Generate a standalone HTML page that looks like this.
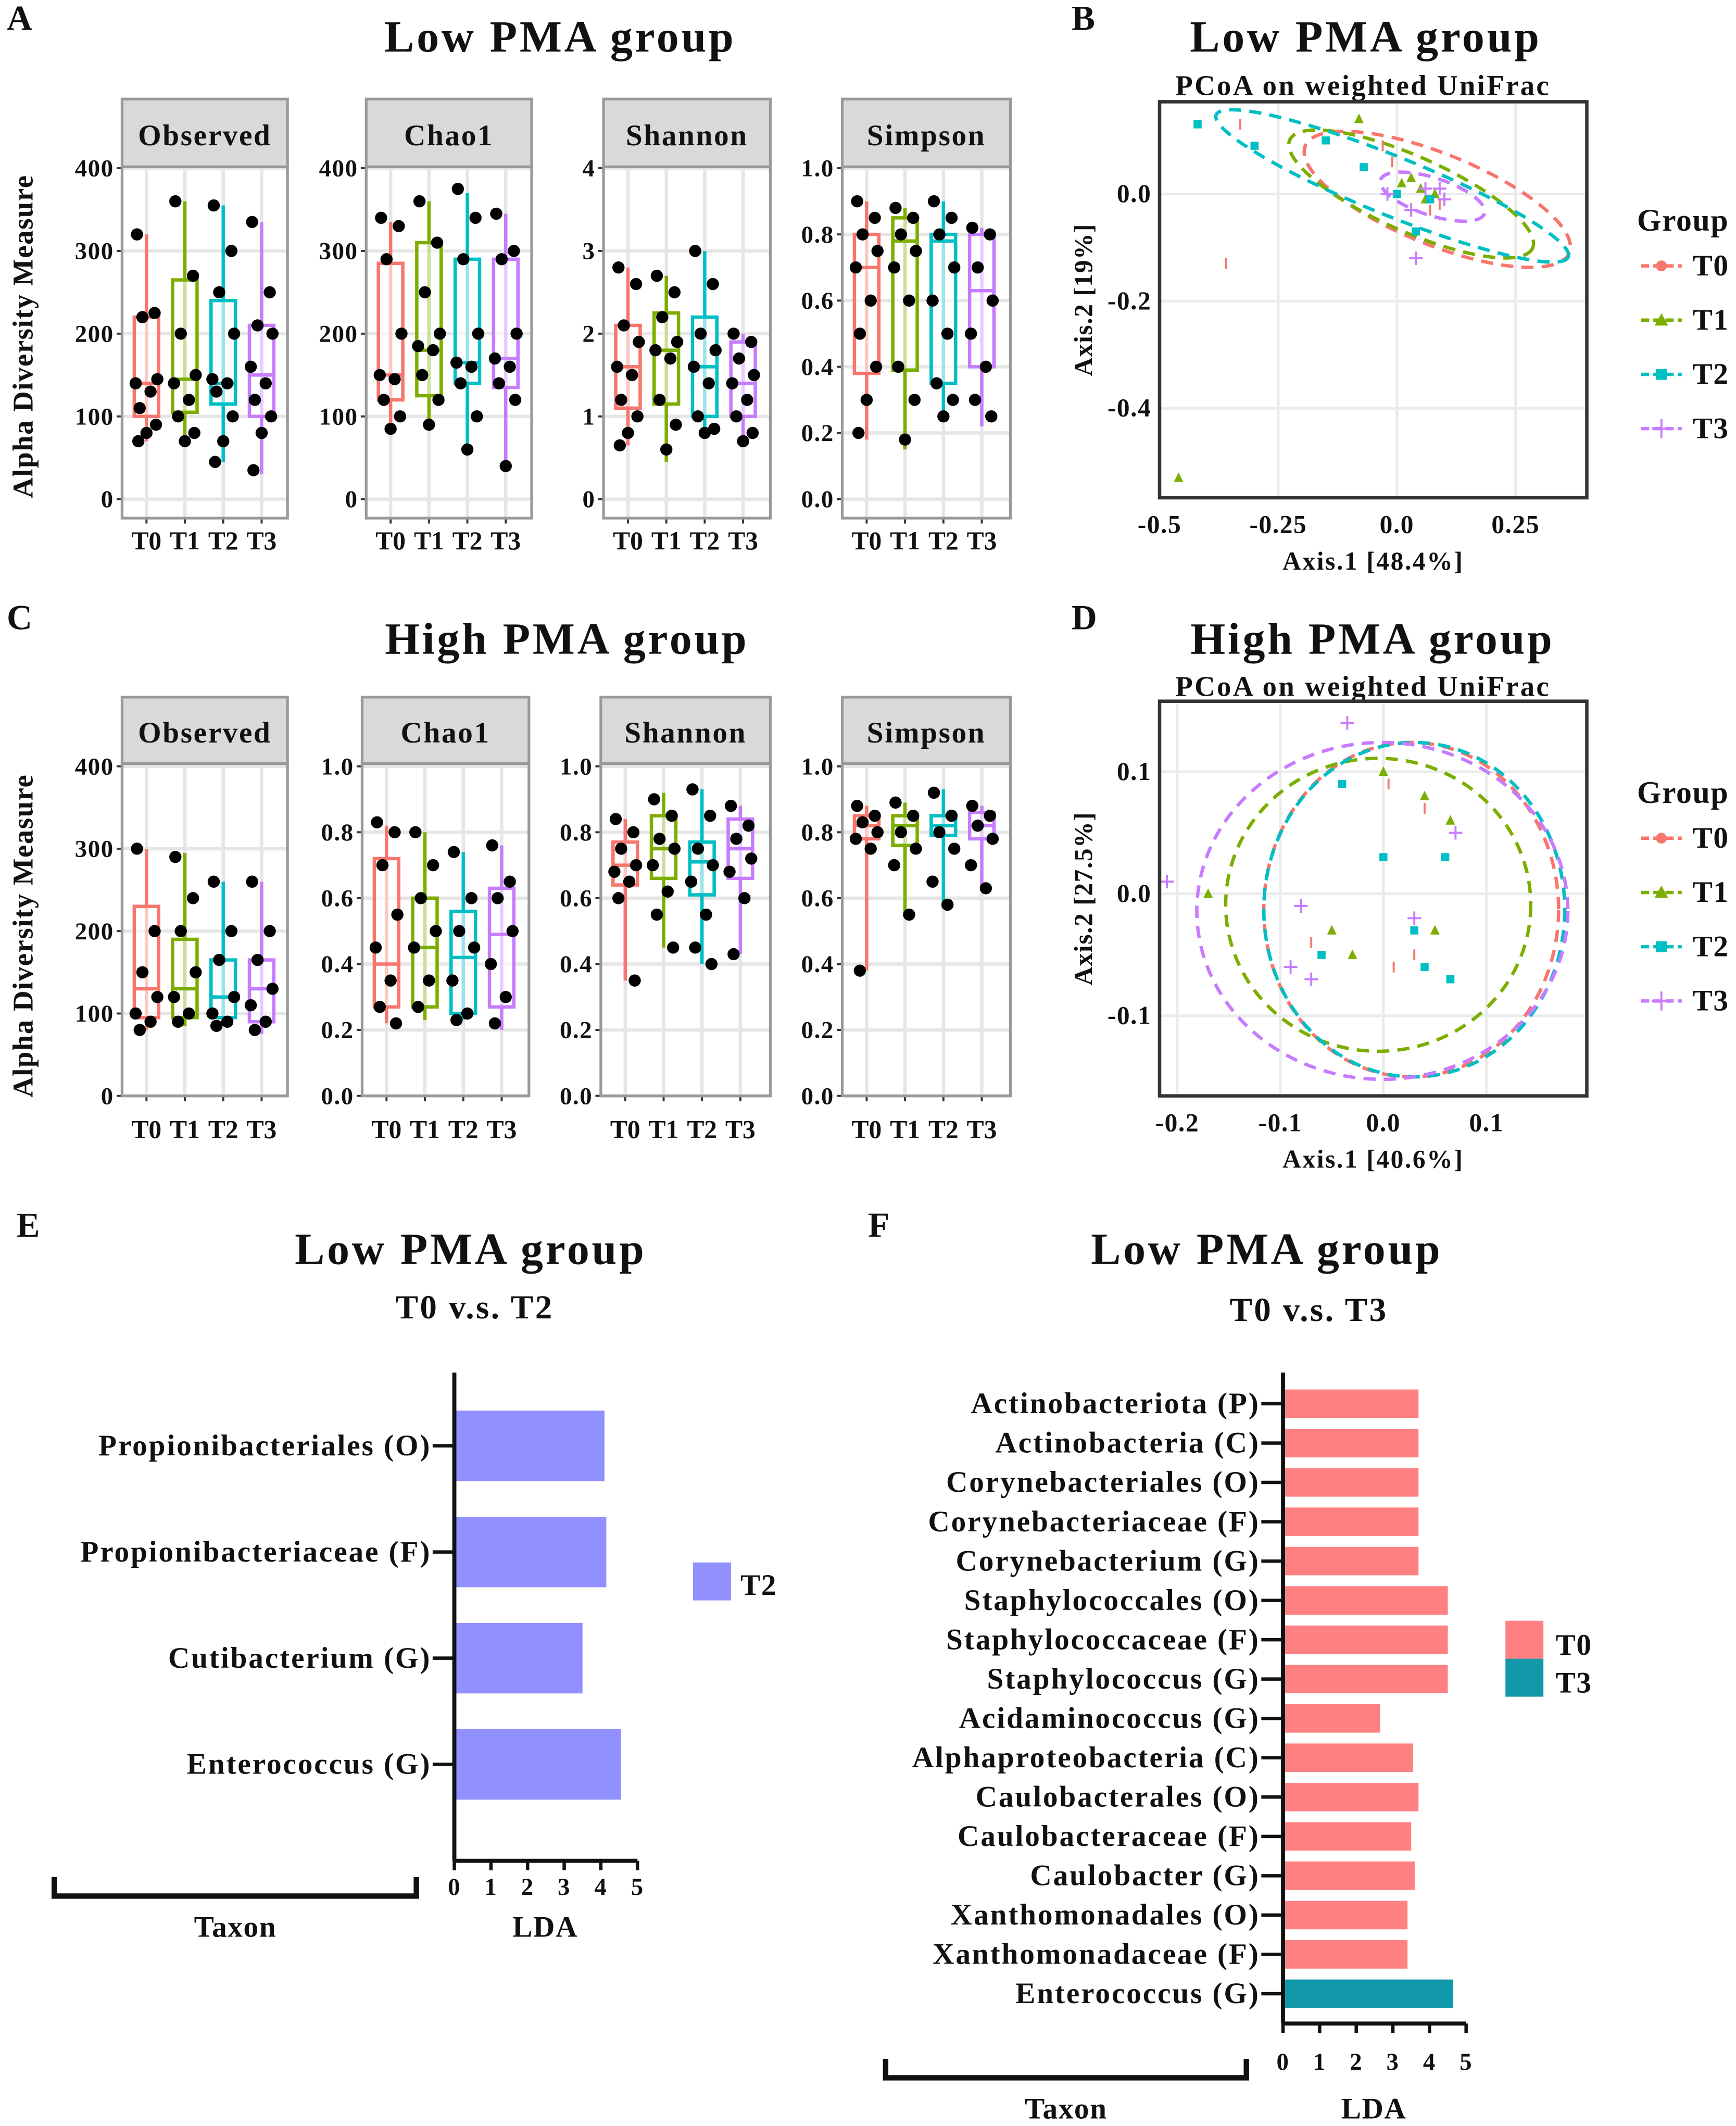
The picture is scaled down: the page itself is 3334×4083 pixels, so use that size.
<!DOCTYPE html>
<html><head><meta charset="utf-8"><style>
html,body{margin:0;padding:0;background:#fff;}
svg{display:block;font-family:"Liberation Serif",serif;font-weight:bold;letter-spacing:0.6px;}
</style></head><body>
<svg id="fig" width="3334" height="4083" viewBox="0 0 1280 1567.5" xmlns="http://www.w3.org/2000/svg"></svg>
<script>
const groups=['T0','T1','T2','T3'];
const gcol=['#F8766D','#7CAE00','#00BFC4','#C77CFF'];
// box stats [min,q1,median,q3,max]
const lowObsStats=[[70,100,140,220,320],[65,105,145,265,360],[45,115,140,240,355],[30,100,150,210,335]];
const lowObsPts=[[320,225,220,145,140,130,110,90,80,70],[360,270,200,150,140,120,100,80,70],[355,300,250,200,145,140,130,100,70,45],[335,250,210,200,160,140,120,100,80,35]];
const lowChaoStats=[[80,120,150,285,335],[90,125,180,310,360],[60,140,165,290,370],[35,135,170,290,345]];
const lowChaoPts=[[340,330,290,200,150,145,120,100,85],[360,310,250,200,185,180,150,120,90],[375,340,290,200,165,160,140,100,60],[345,300,290,200,170,160,140,120,40]];
const lowShanStats=[[0.65,1.1,1.6,2.1,2.8],[0.45,1.15,1.8,2.25,2.7],[0.8,1.0,1.6,2.2,3.0],[0.7,1.0,1.4,1.9,2.0]];
const lowShanPts=[[2.8,2.6,2.1,1.9,1.6,1.5,1.2,1.0,0.8,0.65],[2.7,2.5,2.2,1.9,1.8,1.7,1.2,0.9,0.6],[3.0,2.6,2.0,1.8,1.6,1.4,1.0,0.85,0.8],[2.0,1.9,1.7,1.5,1.4,1.2,1.0,0.8,0.7]];
const lowSimpStats=[[0.18,0.38,0.70,0.80,0.90],[0.15,0.39,0.78,0.85,0.88],[0.25,0.35,0.78,0.80,0.90],[0.22,0.40,0.63,0.80,0.82]];
const lowSimpPts=[[0.9,0.85,0.8,0.75,0.7,0.6,0.5,0.4,0.3,0.2],[0.88,0.85,0.8,0.75,0.7,0.6,0.4,0.3,0.18],[0.9,0.85,0.8,0.7,0.6,0.5,0.35,0.3,0.25],[0.82,0.8,0.7,0.6,0.5,0.4,0.3,0.25]];
const highObsStats=[[80,95,130,230,300],[85,95,130,190,295],[85,95,120,165,260],[75,90,130,165,260]];
const highObsPts=[[300,200,150,120,100,90,80],[290,240,200,150,120,100,90],[260,200,165,120,100,90,85],[260,200,165,130,110,90,80]];
const highChaoStats=[[0.22,0.27,0.4,0.72,0.82],[0.23,0.27,0.45,0.6,0.8],[0.23,0.25,0.42,0.56,0.74],[0.2,0.27,0.49,0.63,0.76]];
const highChaoPts=[[0.83,0.8,0.7,0.55,0.45,0.35,0.27,0.22],[0.8,0.7,0.6,0.5,0.45,0.35,0.27],[0.74,0.6,0.5,0.45,0.35,0.25,0.23],[0.76,0.65,0.6,0.5,0.4,0.3,0.22]];
const highShanStats=[[0.35,0.64,0.7,0.77,0.84],[0.45,0.66,0.75,0.85,0.92],[0.4,0.61,0.71,0.77,0.93],[0.43,0.66,0.75,0.84,0.88]];
const highShanPts=[[0.84,0.8,0.75,0.7,0.68,0.65,0.6,0.35],[0.9,0.85,0.78,0.75,0.7,0.62,0.55,0.45],[0.93,0.85,0.75,0.7,0.65,0.55,0.45,0.4],[0.88,0.82,0.78,0.72,0.68,0.6,0.43]];
const highSimpStats=[[0.38,0.78,0.82,0.85,0.88],[0.55,0.76,0.82,0.85,0.89],[0.57,0.79,0.82,0.85,0.93],[0.63,0.78,0.82,0.86,0.88]];
const highSimpPts=[[0.88,0.85,0.83,0.8,0.78,0.75,0.38],[0.89,0.85,0.8,0.75,0.7,0.55],[0.92,0.85,0.8,0.75,0.65,0.58],[0.88,0.85,0.82,0.78,0.7,0.63]];
const ticks400=['0','100','200','300','400'];
const ticks4=['0','1','2','3','4'];
const ticks1=['0.0','0.2','0.4','0.6','0.8','1.0'];
// PCoA ellipses [cx,cy,rx,ry,angleDeg]
const pcoaBEll=[[0.085,-0.01,0.30,0.085,22],[0.03,0.0,0.28,0.07,24],[-0.01,0.015,0.40,0.055,22],[0.075,-0.005,0.115,0.035,18]];
const pcoaBPts=[[[-0.33,0.13],[-0.03,0.09],[-0.01,0.06],[0.07,-0.03],[-0.36,-0.13],[0.09,-0.02]],[[-0.46,-0.53],[-0.08,0.14],[0.03,0.03],[0.01,0.02],[0.05,0.01],[0.08,0.0],[0.06,-0.01]],[[-0.42,0.13],[-0.3,0.09],[-0.15,0.1],[-0.07,0.05],[0.0,0.0],[0.07,-0.01],[0.04,-0.07]],[[-0.02,0.0],[0.06,0.01],[0.09,0.01],[0.1,-0.01],[0.03,-0.03],[0.04,-0.12]]];
const pcoaDEll=[[0.027,-0.013,0.143,0.137,0],[-0.005,-0.009,0.148,0.12,0],[0.03,-0.013,0.146,0.137,0],[-0.001,-0.014,0.18,0.138,0]];
const pcoaDPts=[[[0.005,0.09],[0.04,0.07],[0.03,-0.05],[0.01,-0.06],[-0.07,-0.04]],[[0.0,0.1],[0.04,0.08],[0.065,0.06],[-0.05,-0.03],[-0.03,-0.05],[0.05,-0.03],[-0.17,0.0]],[[-0.04,0.09],[0.0,0.03],[0.03,-0.03],[0.04,-0.06],[-0.06,-0.05],[0.065,-0.07],[0.06,0.03]],[[-0.035,0.14],[-0.21,0.01],[-0.08,-0.01],[0.03,-0.02],[0.07,0.05],[-0.07,-0.07],[-0.09,-0.06]]];
const lefCatsE=['Propionibacteriales (O)','Propionibacteriaceae (F)','Cutibacterium (G)','Enterococcus (G)'];
const lefValsE=[4.1,4.15,3.5,4.55];
const lefCatsF=['Actinobacteriota (P)','Actinobacteria (C)','Corynebacteriales (O)','Corynebacteriaceae (F)','Corynebacterium (G)','Staphylococcales (O)','Staphylococcaceae (F)','Staphylococcus (G)','Acidaminococcus (G)','Alphaproteobacteria (C)','Caulobacterales (O)','Caulobacteraceae (F)','Caulobacter (G)','Xanthomonadales (O)','Xanthomonadaceae (F)','Enterococcus (G)'];
const lefValsF=[3.7,3.7,3.7,3.7,3.7,4.5,4.5,4.5,2.65,3.55,3.7,3.5,3.6,3.4,3.4,4.65];
const lefGrpF=['T0','T0','T0','T0','T0','T0','T0','T0','T0','T0','T0','T0','T0','T0','T0','T3'];
const ldaTicks=['0','1','2','3','4','5'];

const NS='http://www.w3.org/2000/svg';
const svg=document.getElementById('fig');
function mk(tag,attrs,parent){const e=document.createElementNS(NS,tag);for(const k in attrs)e.setAttribute(k,attrs[k]);(parent||svg).appendChild(e);return e;}
function txt(s,x,y,size,anchor,parent,extra){const e=mk('text',Object.assign({x:x,y:y,'font-size':size,'text-anchor':anchor||'middle',fill:'#111'},extra||{}),parent);e.textContent=s;return e;}

[['A',5,22],['B',790,22],['C',5,464],['D',790,464],['E',12,912],['F',640,912]].forEach(p=>{
 const t=txt(p[0],p[1],p[2],26,'start');
 
 
});
[['Low PMA group',413,38],['Low PMA group',1007,38],['High PMA group',418,482],['High PMA group',1012,482],['Low PMA group',347,932],['Low PMA group',934,932]].forEach((p,i)=>{
 const t=txt(p[0],p[1],p[2],33,'middle',svg,{'letter-spacing':'1.8px'});
 
 
});
[['PCoA on weighted UniFrac',1005,70,21],['PCoA on weighted UniFrac',1005,513,21],['T0 v.s. T2',350,972,25],['T0 v.s. T3',965,974,25]].forEach((p,i)=>{
 const t=txt(p[0],p[1],p[2],p[3],'middle',svg,{'letter-spacing':'1.3px'});
 
 
});

function facet(x0,x1,hTop,pTop,pBot,yZero,yTop,vmax,ticks,label,stats,pts,name){
 const g=mk('g',{});
 
 
 const Y=v=>yZero-(v/vmax)*(yZero-yTop);
 mk('rect',{x:x0,y:hTop,width:x1-x0,height:pTop-hTop,fill:'#d9d9d9',stroke:'#999','stroke-width':2},g);
 const ht=txt(label,(x0+x1)/2,hTop+(pTop-hTop)/2+9,22,'middle',g,{'letter-spacing':'1px'});
 
 
 mk('rect',{x:x0,y:pTop,width:x1-x0,height:pBot-pTop,fill:'#fff',stroke:'none'},g);
 ticks.forEach((t,i)=>{
  const v=vmax*i/(ticks.length-1);const y=Y(v);
  mk('line',{x1:x0,x2:x1,y1:y,y2:y,stroke:'#e6e6e6','stroke-width':2.5},g);
  mk('line',{x1:x0-4,x2:x0,y1:y,y2:y,stroke:'#333','stroke-width':1.5},g);
  const tl=txt(t,x0-6,y+6,18,'end',g);
  
  
 });
 const jit=[-7,6,-3,8,-8,3,-5,7,0,-6,5];
 groups.forEach((gn,i)=>{
  const cx=x0+18+i*28.3;
  mk('line',{x1:cx,x2:cx,y1:pTop,y2:pBot,stroke:'#e6e6e6','stroke-width':2.5},g);
  const s=stats[i];
  const w=mk('line',{x1:cx,x2:cx,y1:Y(s[0]),y2:Y(s[4]),stroke:gcol[i],'stroke-width':2.5},g);
  
  
  const b=mk('rect',{x:cx-9,y:Y(s[3]),width:18,height:Y(s[1])-Y(s[3]),fill:'#fff','fill-opacity':0.6,stroke:gcol[i],'stroke-width':2.5},g);
  
  
  mk('line',{x1:cx-9,x2:cx+9,y1:Y(s[2]),y2:Y(s[2]),stroke:gcol[i],'stroke-width':2.5},g);
  pts[i].forEach((v,j)=>{
   const c=mk('circle',{cx:cx+jit[j%jit.length],cy:Y(v),r:4.5,fill:'#000'},g);
   
   
  });
  mk('line',{x1:cx,x2:cx,y1:pBot,y2:pBot+4,stroke:'#333','stroke-width':1.5},g);
  const xl=txt(gn,cx,pBot+(pBot>600?31:23),19,'middle',g,{'letter-spacing':'0px'});
  
  
 });
 mk('rect',{x:x0,y:pTop,width:x1-x0,height:pBot-pTop,fill:'none',stroke:'#999','stroke-width':2},g);
}
const lx=[[90,212],[270,392],[445,568],[621,745]];
facet(lx[0][0],lx[0][1],73,123,382,368,124,400,ticks400,'Observed',lowObsStats,lowObsPts,'low-observed');
facet(lx[1][0],lx[1][1],73,123,382,368,124,400,ticks400,'Chao1',lowChaoStats,lowChaoPts,'low-chao1');
facet(lx[2][0],lx[2][1],73,123,382,368,124,4,ticks4,'Shannon',lowShanStats,lowShanPts,'low-shannon');
facet(lx[3][0],lx[3][1],73,123,382,368,124,1,ticks1,'Simpson',lowSimpStats,lowSimpPts,'low-simpson');
const hx=[[90,212],[267,390],[443,568],[621,745]];
facet(hx[0][0],hx[0][1],514,563,808,808,565,400,ticks400,'Observed',highObsStats,highObsPts,'high-observed');
facet(hx[1][0],hx[1][1],514,563,808,808,565,1,ticks1,'Chao1',highChaoStats,highChaoPts,'high-chao1');
facet(hx[2][0],hx[2][1],514,563,808,808,565,1,ticks1,'Shannon',highShanStats,highShanPts,'high-shannon');
facet(hx[3][0],hx[3][1],514,563,808,808,565,1,ticks1,'Simpson',highSimpStats,highSimpPts,'high-simpson');
[[248,'y-axis-title-a'],[690,'y-axis-title-c']].forEach(p=>{
 const t=txt('Alpha Diversity Measure',0,0,21,'middle',svg,{transform:'translate(24,'+p[0]+') rotate(-90)'});
 
 
});

function pcoa(box,xs,ys,xt,yt,ells,pts,xlab,ylab,name,legY){
 const g=mk('g',{});
 
 
 const X=v=>xs[0]+v*xs[1], Y=v=>ys[0]-v*ys[1];
 mk('rect',{x:box[0],y:box[1],width:box[2]-box[0],height:box[3]-box[1],fill:'#fff'},g);
 xt.forEach(t=>{const x=X(t[0]);mk('line',{x1:x,x2:x,y1:box[1],y2:box[3],stroke:'#ebebeb','stroke-width':2},g);
  const l=txt(t[1],x,box[3]+26,19,'middle',g);});
 yt.forEach(t=>{const y=Y(t[0]);mk('line',{x1:box[0],x2:box[2],y1:y,y2:y,stroke:'#ebebeb','stroke-width':2},g);
  const l=txt(t[1],box[0]-6,y+6,19,'end',g);});
 ells.forEach((e,i)=>{
  const el=mk('ellipse',{cx:X(e[0]),cy:Y(e[1]),rx:e[2]*xs[1],ry:e[3]*ys[1],fill:'none',stroke:gcol[i],'stroke-width':2.5,'stroke-dasharray':'9 6',transform:'rotate('+e[4]+' '+X(e[0])+' '+Y(e[1])+')'},g);
  
  
 });
 pts.forEach((arr,i)=>arr.forEach(p=>{
  const x=X(p[0]),y=Y(p[1]);let m;
  if(i==0)m=mk('line',{x1:x,x2:x,y1:y-4,y2:y+4,stroke:gcol[0],'stroke-width':1.5},g);
  else if(i==1)m=mk('polygon',{points:(x-3.5)+','+(y+3)+' '+(x+3.5)+','+(y+3)+' '+x+','+(y-4),fill:gcol[1]},g);
  else if(i==2)m=mk('rect',{x:x-3,y:y-3,width:6,height:6,fill:gcol[2]},g);
  else m=mk('path',{d:'M'+(x-5)+' '+y+'H'+(x+5)+'M'+x+' '+(y-5)+'V'+(y+5),stroke:gcol[3],'stroke-width':1.5},g);
  
  
 }));
 mk('rect',{x:box[0],y:box[1],width:box[2]-box[0],height:box[3]-box[1],fill:'none',stroke:'#333','stroke-width':2.5},g);
 const xl=txt(xlab,(box[0]+box[2])/2,box[3]+53,19,'middle',g,{'letter-spacing':'1px'});
 const yl=txt(ylab,0,0,19,'middle',g,{transform:'translate('+(box[0]-50)+','+((box[1]+box[3])/2)+') rotate(-90)'});
 const lg=mk('g',{},g);
 txt('Group',1207,legY,23,'start',lg);
 groups.forEach((gn,i)=>{
  const y=legY+33+i*40;
  mk('line',{x1:1210,x2:1240,y1:y-7,y2:y-7,stroke:gcol[i],'stroke-width':2.5,'stroke-dasharray':'6 3'},lg);
  const x=1225,yy=y-7;
  if(i==0)mk('circle',{cx:x,cy:yy,r:4,fill:gcol[0]},lg);
  else if(i==1)mk('polygon',{points:(x-5)+','+(yy+4)+' '+(x+5)+','+(yy+4)+' '+x+','+(yy-5),fill:gcol[1]},lg);
  else if(i==2)mk('rect',{x:x-4,y:yy-4,width:8,height:8,fill:gcol[2]},lg);
  else mk('path',{d:'M'+(x-7)+' '+yy+'H'+(x+7)+'M'+x+' '+(yy-7)+'V'+(yy+7),stroke:gcol[3],'stroke-width':1.5},lg);
  const t=txt(gn,1248,y,22,'start',lg);
 });
}
pcoa([855,75,1170,367],[1030,350],[143,395],[[-0.5,'-0.5'],[-0.25,'-0.25'],[0,'0.0'],[0.25,'0.25']],[[0,'0.0'],[-0.2,'-0.2'],[-0.4,'-0.4']],pcoaBEll,pcoaBPts,'Axis.1 [48.4%]','Axis.2 [19%]','b',170);
pcoa([855,517,1170,808],[1020,760],[659,900],[[-0.2,'-0.2'],[-0.1,'-0.1'],[0,'0.0'],[0.1,'0.1']],[[0.1,'0.1'],[0,'0.0'],[-0.1,'-0.1']],pcoaDEll,pcoaDPts,'Axis.1 [40.6%]','Axis.2 [27.5%]','d',592);

function lefse(ax,yTop,yBot,firstY,step,barH,cats,vals,colors,name,taxon,lda,fs,tOff){
 const g=mk('g',{});
 
 
 const X=v=>ax+v*27;
 cats.forEach((c,i)=>{
  const cy=firstY+i*step;
  const b=mk('rect',{x:ax,y:cy-barH/2,width:X(vals[i])-ax,height:barH,fill:colors[i]},g);
  
  
  mk('line',{x1:ax-16,x2:ax,y1:cy,y2:cy,stroke:'#111','stroke-width':2.5},g);
  const t=txt(c,ax-17,cy+7,fs,'end',g,{'letter-spacing':'1.1px'});
 });
 mk('line',{x1:ax,x2:ax,y1:yTop,y2:yBot,stroke:'#111','stroke-width':3},g);
 mk('line',{x1:ax,x2:X(5),y1:yBot,y2:yBot,stroke:'#111','stroke-width':3},g);
 ldaTicks.forEach((t,i)=>{const x=X(+t);mk('line',{x1:x,x2:x,y1:yBot,y2:yBot+7,stroke:'#111','stroke-width':2.5},g);
  const l=txt(t,x,yBot+tOff,18,'middle',g);});
 mk('path',{d:'M'+taxon[0]+' '+(taxon[2]-14)+'V'+taxon[2]+'H'+taxon[1]+'V'+(taxon[2]-14),fill:'none',stroke:'#111','stroke-width':4},g);
 const tx=txt('Taxon',(taxon[0]+taxon[1])/2,taxon[2]+30,22,'middle',g);
 const ld=txt('LDA',lda,taxon[2]+30,22,'middle',g);
}
lefse(335,1012,1372,1066,78.3,52,lefCatsE,lefValsE,lefCatsE.map(()=> '#9090FF'),'e',[40,307,1398],402,22,25);
lefse(946,1012,1492,1035,29,21,lefCatsF,lefValsF,lefGrpF.map(v=>v=='T0'?'#FF8080':'#1199AA'),'f',[653,919,1532],1013,22,34);
const le=mk('rect',{x:511,y:1152,width:28,height:28,fill:'#9090FF'});
const let2=txt('T2',546,1176,22,'start');
const lf0=mk('rect',{x:1110,y:1195,width:28,height:28,fill:'#FF8080'});
const lf3=mk('rect',{x:1110,y:1223,width:28,height:28,fill:'#1199AA'});
const lt0=txt('T0',1147,1220,22,'start');
const lt3=txt('T3',1147,1248,22,'start');
</script>
</body></html>
